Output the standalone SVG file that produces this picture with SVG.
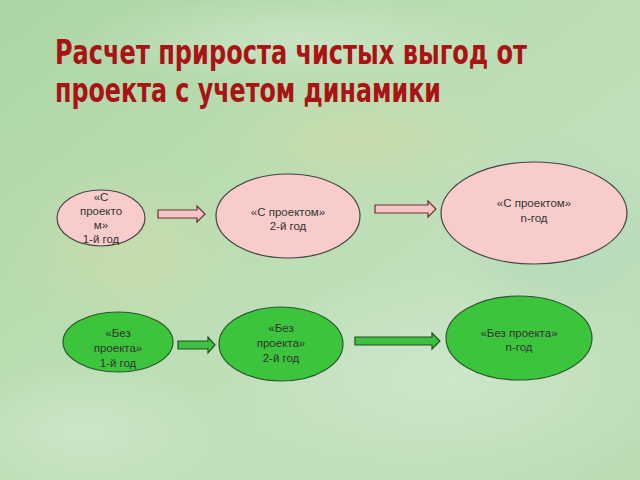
<svg xmlns="http://www.w3.org/2000/svg" width="640" height="480" viewBox="0 0 640 480">
<defs>
<linearGradient id="bg" x1="0" y1="0" x2="1" y2="1">
<stop offset="0" stop-color="#acd6a6"/>
<stop offset="0.35" stop-color="#b9dcb0"/>
<stop offset="0.65" stop-color="#c2e0bc"/>
<stop offset="1" stop-color="#bcdcb6"/>
</linearGradient>
<radialGradient id="warm" cx="0.5" cy="0.5" r="0.5">
<stop offset="0" stop-color="#d4dca8" stop-opacity="0.5"/>
<stop offset="1" stop-color="#d4dca8" stop-opacity="0"/>
</radialGradient>
<radialGradient id="pale" cx="0.5" cy="0.5" r="0.5">
<stop offset="0" stop-color="#d6ead4" stop-opacity="0.6"/>
<stop offset="1" stop-color="#d6ead4" stop-opacity="0"/>
</radialGradient>
<radialGradient id="teal" cx="0.5" cy="0.5" r="0.5">
<stop offset="0" stop-color="#a4d2bc" stop-opacity="0.5"/>
<stop offset="1" stop-color="#a4d2bc" stop-opacity="0"/>
</radialGradient>
<style>
.pink{fill:#f9cccc;stroke:#444;stroke-width:1.2}
.green{fill:#3cc43c;stroke:#2a5a2a;stroke-width:1.2}
.pa{fill:#f6c6c6;stroke:#6a3030;stroke-width:1.2}
.ga{fill:#40c040;stroke:#1f4f1f;stroke-width:1.2}
.t{font-family:"Liberation Sans",Arial,sans-serif;font-size:11.5px;fill:#333;text-anchor:middle}
.title{font-family:"DejaVu Sans Condensed","Liberation Sans",sans-serif;font-weight:bold;font-size:34px;fill:#a81414}
</style>
</defs>
<rect width="640" height="480" fill="url(#bg)"/>
<ellipse cx="360" cy="140" rx="160" ry="60" fill="url(#warm)"/>
<ellipse cx="130" cy="250" rx="120" ry="90" fill="url(#warm)"/>
<ellipse cx="450" cy="380" rx="220" ry="110" fill="url(#pale)"/>
<ellipse cx="560" cy="230" rx="120" ry="100" fill="url(#teal)"/>
<ellipse cx="80" cy="430" rx="140" ry="70" fill="url(#pale)"/>
<ellipse cx="300" cy="40" rx="220" ry="45" fill="url(#pale)"/>

<g id="title">
<text class="title" x="55" y="64" textLength="472" lengthAdjust="spacingAndGlyphs">Расчет прироста чистых выгод от</text>
<text class="title" x="55" y="102" textLength="386" lengthAdjust="spacingAndGlyphs">проекта с учетом динамики</text>
</g>

<g id="connectors">
<polygon class="pa" points="158,210 197,210 197,206 205,214 197,222 197,218 158,218"/>
<polygon class="pa" points="375,205 428,205 428,201 436,209 428,217 428,213 375,213"/>
<polygon class="ga" points="178,341 208,341 208,337 215,345 208,353 208,349 178,349"/>
<polygon class="ga" points="355,337 432,337 432,333 440,341 432,349 432,345 355,345"/>
</g>

<g id="with1">
<ellipse class="pink" cx="101" cy="218" rx="44" ry="28"/>
<text class="t" x="101" y="201">«С</text>
<text class="t" x="101" y="215">проекто</text>
<text class="t" x="101" y="229">м»</text>
<text class="t" x="101" y="243">1-й год</text>
</g>
<g id="with2">
<ellipse class="pink" cx="288" cy="216" rx="72" ry="42"/>
<text class="t" x="288" y="216">«С проектом»</text>
<text class="t" x="288" y="230">2-й год</text>
</g>
<g id="withn">
<ellipse class="pink" cx="534" cy="213" rx="93" ry="51"/>
<text class="t" x="534" y="207">«С проектом»</text>
<text class="t" x="534" y="222">n-год</text>
</g>
<g id="without1">
<ellipse class="green" cx="118" cy="342" rx="55" ry="30"/>
<text class="t" x="118" y="337">«Без</text>
<text class="t" x="118" y="352">проекта»</text>
<text class="t" x="118" y="367">1-й год</text>
</g>
<g id="without2">
<ellipse class="green" cx="281" cy="344" rx="62" ry="37"/>
<text class="t" x="281" y="332">«Без</text>
<text class="t" x="281" y="347">проекта»</text>
<text class="t" x="281" y="362">2-й год</text>
</g>
<g id="withoutn">
<ellipse class="green" cx="519" cy="338" rx="73" ry="42"/>
<text class="t" x="519" y="337">«Без проекта»</text>
<text class="t" x="519" y="351">n-год</text>
</g>
</svg>
